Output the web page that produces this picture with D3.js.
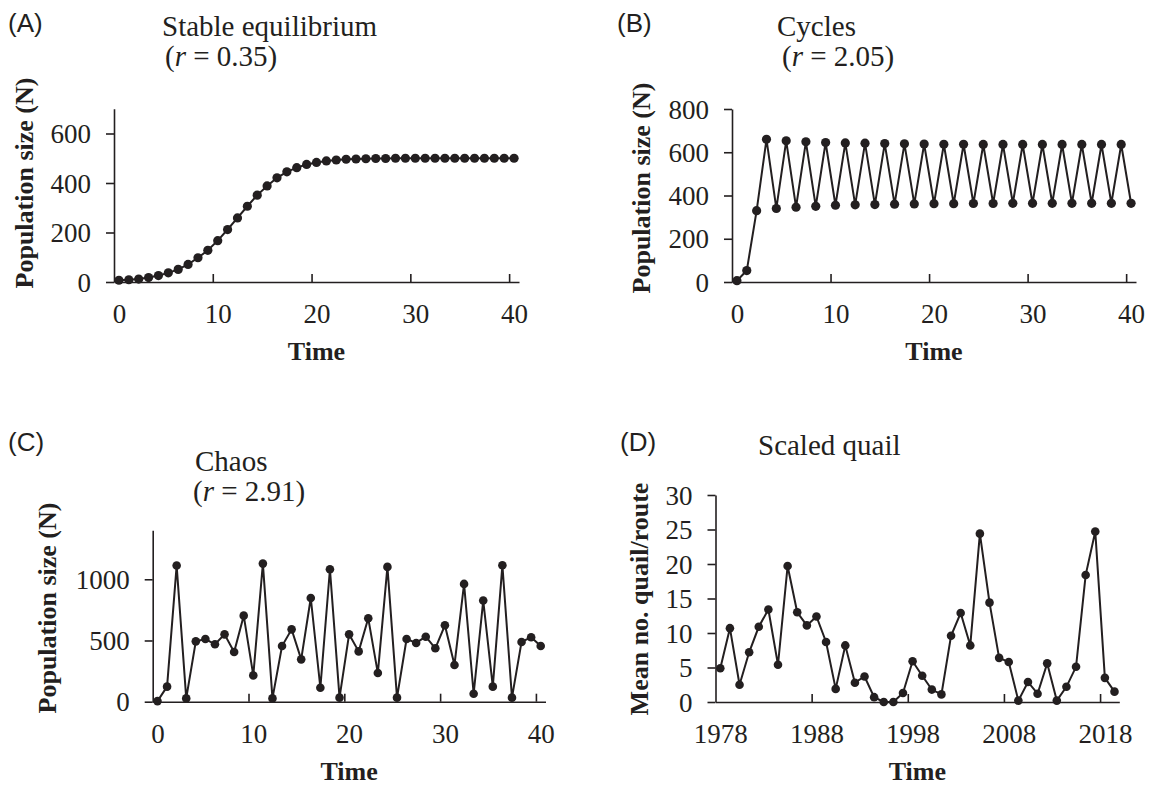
<!DOCTYPE html>
<html>
<head>
<meta charset="utf-8">
<script src="https://cdn.jsdelivr.net/npm/d3@7"></script>
<style>
  html, body { margin: 0; padding: 0; background: #ffffff; }
  svg { display: block; }
</style>
</head>
<body>
<svg id="chart" width="1149" height="785"></svg>
<script>
// ---------------- DATA ----------------
const timeSteps = d3.range(0, 41);             // generations 0..40
const years = [1978,1979,1980,1981,1982,1983,1984,1985,1986,1987,
               1988,1989,1990,1991,1992,1993,1994,1995,1996,1997,
               1998,1999,2000,2001,2002,2003,2004,2005,2006,2007,
               2008,2009,2010,2011,2012,2013,2014,2015,2016,2017,
               2018,2019];

const stableN = [7, 9, 12, 18, 26, 37, 51, 71, 98, 128,
                 167, 212, 259, 306, 351, 388, 421, 445, 462, 475,
                 483, 489, 493, 496, 497, 498, 499, 499, 500, 500,
                 500, 500, 500, 500, 500, 500, 500, 500, 500, 500, 500];

const cyclesN = [6, 53, 330, 660, 340, 653, 346, 648, 350, 645,
                 355, 643, 357, 642, 358, 640, 360, 639, 361, 638,
                 362, 637, 362, 637, 363, 636, 363, 636, 364, 636,
                 364, 636, 364, 636, 364, 636, 364, 636, 364, 636, 364];

const chaosN = [5, 123, 1112, 27, 493, 512, 469, 550, 406, 703,
                215, 1128, 27, 455, 591, 346, 847, 114, 1082, 33,
                550, 411, 681, 234, 1101, 33, 512, 480, 531, 436,
                624, 300, 962, 65, 826, 123, 1114, 33, 488, 526, 455];

const quail = [4.9, 10.7, 2.5, 7.2, 10.9, 13.4, 5.4, 19.7, 13.0, 11.1,
               12.4, 8.7, 1.9, 8.2, 2.8, 3.7, 0.7, 0.0, 0.0, 1.3,
               5.9, 3.8, 1.8, 1.1, 9.6, 12.9, 8.2, 24.4, 14.4, 6.4,
               5.8, 0.2, 2.9, 1.2, 5.6, 0.2, 2.2, 5.1, 18.4, 24.7,
               3.5, 1.5];

// tick labels
const timeLabels = [0, 10, 20, 30, 40];
const yearLabels = [1978, 1988, 1998, 2008, 2018];
const yTicksA = [0, 200, 400, 600];
const yTicksB = [0, 200, 400, 600, 800];
const yTicksC = [0, 500, 1000];
const yTicksD = [0, 5, 10, 15, 20, 25, 30];

// ---------------- STYLE ----------------
const INK = "#231f20";
const SERIF = "Liberation Serif";
const SANS = "Liberation Sans";

const svg = d3.select("#chart");
svg.append("rect").attr("width", 1149).attr("height", 785).attr("fill", "#fff");

function serifText(sel, size, bold) {
  sel.style("font-family", SERIF).style("font-size", size + "px").attr("fill", INK);
  if (bold) sel.style("font-weight", "bold");
  return sel;
}

function drawPanel(p) {
  const g = svg.append("g");
  const x = d3.scaleLinear()
    .domain([p.cats[0] - 0.5, p.cats[p.cats.length - 1] + 0.5])
    .range([p.left, p.right]);
  const y = d3.scaleLinear().domain(p.yDomain).range([p.bottom, p.top]);

  // y axis
  const ya = g.append("g").attr("transform", `translate(${p.left},0)`)
    .call(d3.axisLeft(y).tickValues(p.yTicks).tickSizeInner(8).tickSizeOuter(0)
      .tickPadding(15).tickFormat(d3.format("d")));
  ya.attr("font-family", null).attr("font-size", null);
  ya.select(".domain").attr("stroke", INK).attr("stroke-width", 1.6);
  ya.selectAll(".tick line").attr("stroke", INK).attr("stroke-width", 1.6);
  serifText(ya.selectAll("text"), 27, false).attr("dy", "0.34em");

  // x axis: boundary tick marks (inside) between categories
  const marks = p.xLabels.slice(1).map(v => v - 0.5);
  const xa = g.append("g").attr("transform", `translate(0,${p.bottom})`)
    .call(d3.axisBottom(x).tickValues(marks).tickSizeInner(-8).tickSizeOuter(0).tickFormat(""));
  xa.select(".domain").attr("stroke", INK).attr("stroke-width", 1.6);
  xa.selectAll(".tick line").attr("stroke", INK).attr("stroke-width", 1.6);

  // x labels centred on categories
  const xl = g.append("g").attr("transform", `translate(0,${p.bottom})`)
    .call(d3.axisBottom(x).tickValues(p.xLabels).tickSize(0).tickFormat(d3.format("d")));
  xl.attr("font-family", null).attr("font-size", null);
  xl.select(".domain").remove();
  serifText(xl.selectAll("text"), 27, false).attr("y", 41).attr("dy", null);

  // line + dots
  const pts = p.cats.map((c, i) => [c, p.values[i]]);
  g.append("path").datum(pts)
    .attr("fill", "none").attr("stroke", INK).attr("stroke-width", 2)
    .attr("stroke-linejoin", "miter")
    .attr("d", d3.line().x(d => x(d[0])).y(d => y(d[1])));
  g.selectAll("circle.pt").data(pts).enter().append("circle")
    .attr("class", "pt")
    .attr("cx", d => x(d[0])).attr("cy", d => y(d[1]))
    .attr("r", p.r).attr("fill", INK);

  // axis titles
  serifText(g.append("text").text(p.yTitle), 26, true)
    .attr("transform", `translate(${p.yTitleX},${p.yTitleY}) rotate(-90)`)
    .attr("text-anchor", "middle");
  serifText(g.append("text").text("Time"), 26, true)
    .attr("x", (p.left + p.right) / 2).attr("y", p.bottom + 78)
    .attr("text-anchor", "middle");

  // panel letter
  g.append("text").text(p.letter).attr("x", p.letterX).attr("y", p.letterY)
    .style("font-family", SANS).style("font-size", "26px").attr("fill", INK);

  // title lines
  serifText(g.append("text"), 29, false).attr("x", p.t1x).attr("y", p.t1y).text(p.title);
  if (p.rVal) {
    const t2 = serifText(g.append("text"), 29, false).attr("x", p.t2x).attr("y", p.t2y);
    t2.append("tspan").text("(");
    t2.append("tspan").style("font-style", "italic").text("r");
    t2.append("tspan").text(" = " + p.rVal + ")");
  }
}

drawPanel({
  letter: "(A)", letterX: 8, letterY: 32,
  title: "Stable equilibrium", t1x: 162, t1y: 36, rVal: "0.35", t2x: 165, t2y: 66,
  cats: timeSteps, values: stableN, xLabels: timeLabels,
  left: 114, right: 519, bottom: 282, top: 108.75, yDomain: [0, 700], yTicks: yTicksA,
  yTitle: "Population size (N)", yTitleX: 33, yTitleY: 183, r: 4.6
});

drawPanel({
  letter: "(B)", letterX: 617, letterY: 32,
  title: "Cycles", t1x: 777, t1y: 36, rVal: "2.05", t2x: 782, t2y: 66,
  cats: timeSteps, values: cyclesN, xLabels: timeLabels,
  left: 732, right: 1136, bottom: 282, top: 109, yDomain: [0, 800], yTicks: yTicksB,
  yTitle: "Population size (N)", yTitleX: 650, yTitleY: 188, r: 4.6
});

drawPanel({
  letter: "(C)", letterX: 8, letterY: 451,
  title: "Chaos", t1x: 195, t1y: 471, rVal: "2.91", t2x: 193, t2y: 501,
  cats: timeSteps, values: chaosN, xLabels: timeLabels,
  left: 152.7, right: 545.5, bottom: 701.7, top: 530.3, yDomain: [0, 1400], yTicks: yTicksC,
  yTitle: "Population size (N)", yTitleX: 56, yTitleY: 608, r: 4.3
});

drawPanel({
  letter: "(D)", letterX: 620, letterY: 451,
  title: "Scaled quail", t1x: 758, t1y: 455, rVal: null,
  cats: years, values: quail, xLabels: yearLabels,
  left: 715.5, right: 1119.3, bottom: 702, top: 495, yDomain: [0, 30], yTicks: yTicksD,
  yTitle: "Mean no. quail/route", yTitleX: 648, yTitleY: 599, r: 4.3
});
</script>
</body>
</html>
